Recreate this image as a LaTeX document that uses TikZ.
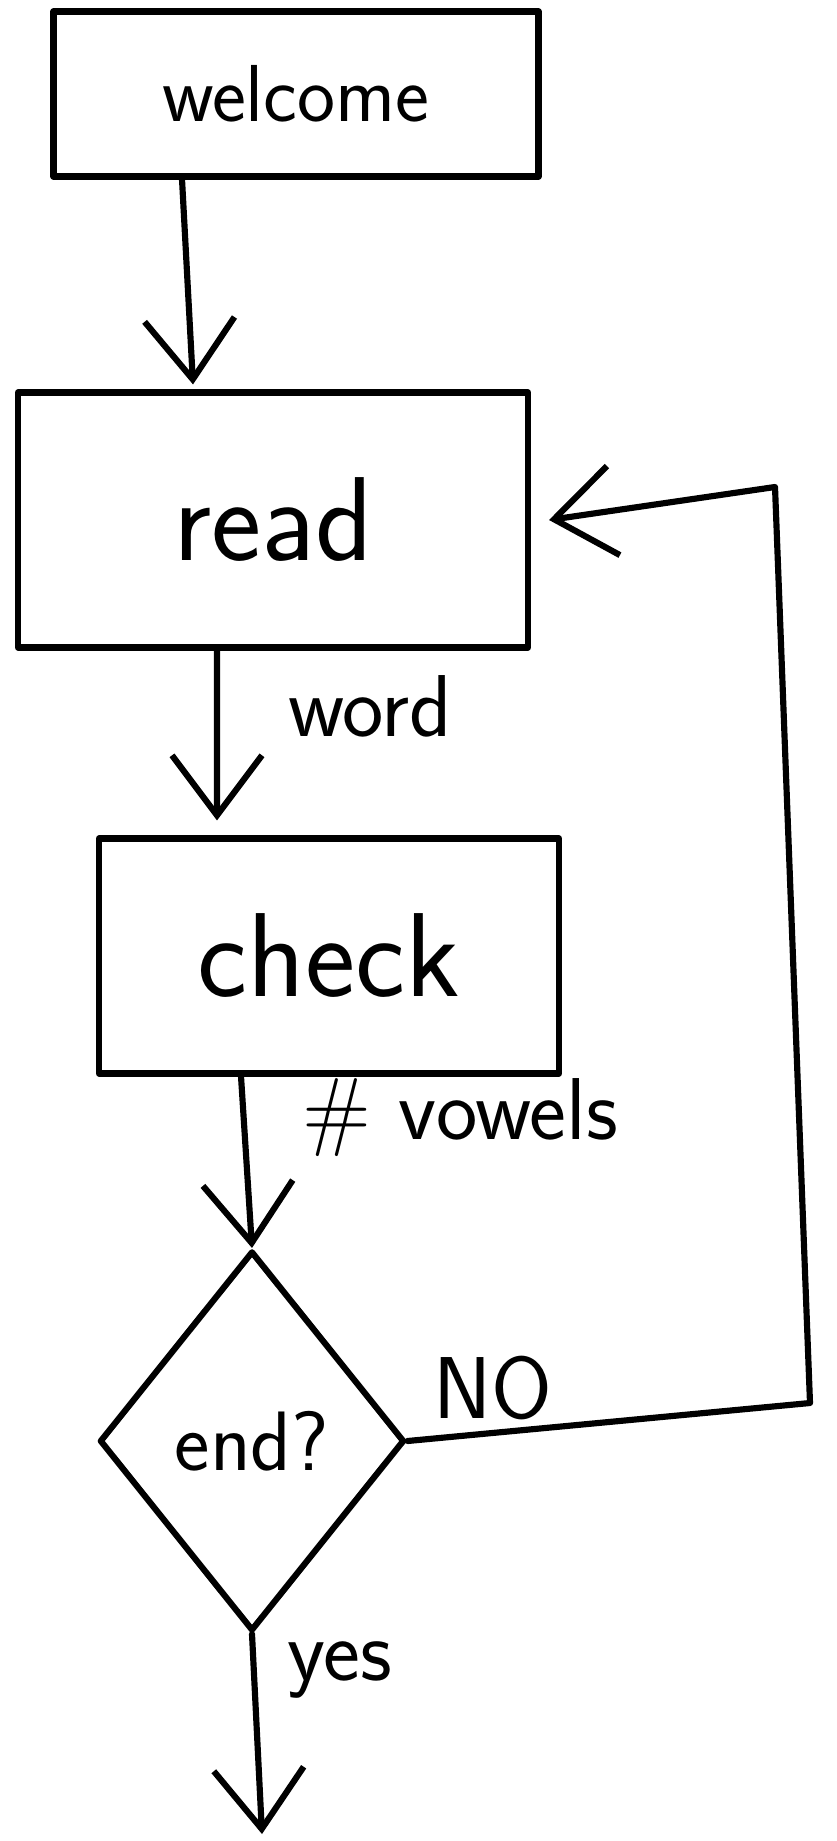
\documentclass[tikz,border=0pt]{standalone}
\usetikzlibrary{shapes.geometric,arrows.meta}
\begin{document}
\begin{tikzpicture}
        [x=0.02cm, y=-0.02cm,
         line width=3.5pt, line cap=round, line join=round,
         box_style/.style={rectangle,draw=black,inner sep=0pt,font=\sffamily\fontsize{68}{76}\selectfont},
         cond_style/.style={diamond,draw=black,inner sep=0pt,minimum width=6.1cm,minimum height=7.6cm,font=\sffamily\fontsize{48}{56}\selectfont},
         edge_style/.style={draw=black,-{Straight Barb[length=1.2cm,width=1.8cm]}},
         text_style/.style={font=\sffamily\fontsize{50}{58}\selectfont}]
            \fill[white] (0,0) rectangle (836,1841);
            \node[box_style,minimum width=9.7cm,minimum height=3.3cm,font=\sffamily\fontsize{46}{54}\selectfont] (welcome) at (296,94) {welcome};
            \node[box_style,minimum width=10.2cm,minimum height=5.1cm] (read) at (273,520) {read};
            \node[box_style,minimum width=9.2cm,minimum height=4.7cm] (check) at (329,956) {check};
            \node[cond_style] (end) at (252,1441) {end?};
            \node[text_style] (word) at (370,706) {word};
            \node[text_style] (vowels) at (460,1118) {\# vowels};
            \node[text_style] (no) at (493,1388) {NO};
            \node[text_style] (yes) at (340,1670) {yes};
            \coordinate (c1) at (810,1403);
            \coordinate (c2) at (775,487);
            \coordinate (out) at (262,1834);
            \draw[edge_style]  ([xshift=-2.28cm]welcome.south) -- ([xshift=-1.6cm,yshift=0.1cm]read.north);
            \draw[edge_style]  ([xshift=-1.12cm]read.south) -- ([xshift=-2.24cm,yshift=0.3cm]check.north);
            \draw[edge_style]  ([xshift=-1.76cm]check.south) -- (end.north);
            \draw[edge_style]  (end.east) -- (c1) -- (c2) -- ([xshift=0.36cm]read.east);
            \draw[edge_style]  (end.south) -- (out);
        \end{tikzpicture}
\end{document}
